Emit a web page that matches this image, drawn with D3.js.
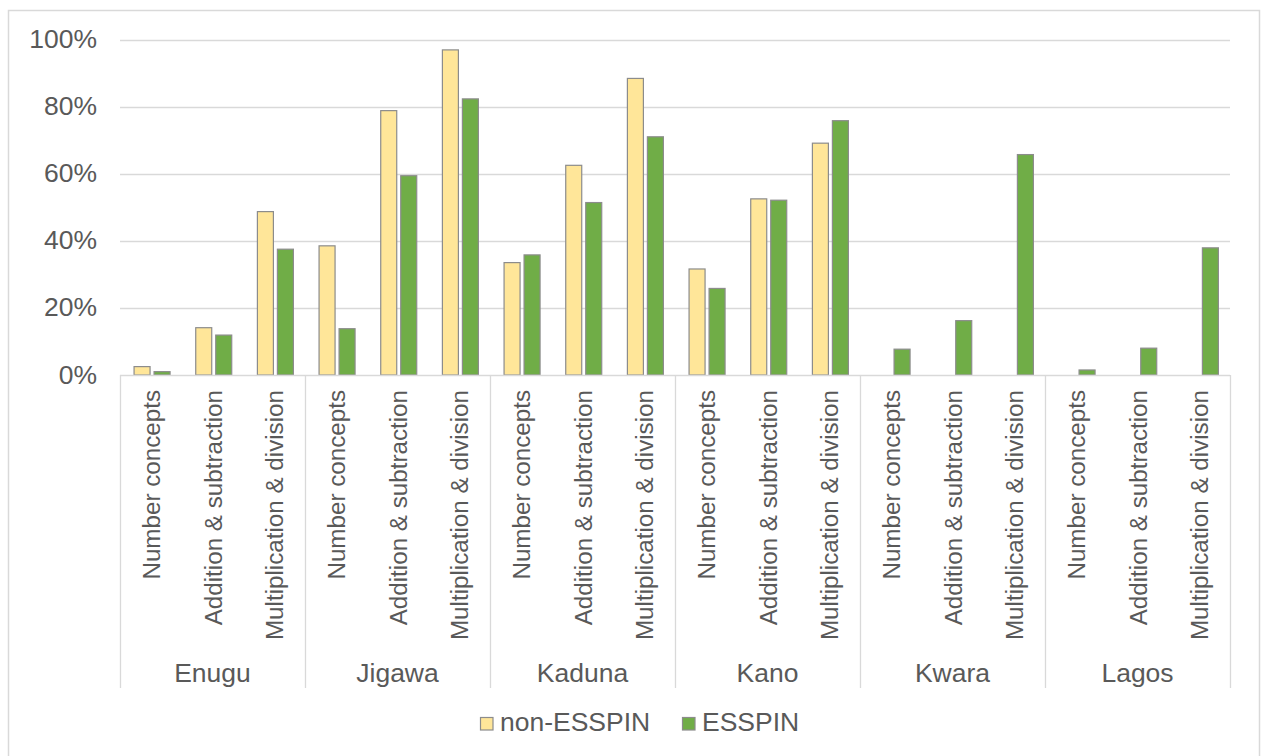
<!DOCTYPE html>
<html>
<head>
<meta charset="utf-8">
<script src="https://cdn.jsdelivr.net/npm/d3@7/dist/d3.min.js"></script>
<style>
  html, body { margin: 0; padding: 0; background: #fff; }
  svg { display: block; font-family: "Liberation Sans", Arial, sans-serif; }
</style>
</head>
<body>
<svg id="chart" width="1261" height="756"></svg>
<script>
// States and skill areas (two-level category axis)
const states = ["Enugu", "Jigawa", "Kaduna", "Kano", "Kwara", "Lagos"];
const skills = ["Number concepts", "Addition & subtraction", "Multiplication & division"];

// Share of pupils (%) per state x skill, in the order of states then skills
const nonEsspin = [2.5, 14.1, 48.7,  38.5, 78.8, 96.9,  33.5, 62.5, 88.4,  31.6, 52.5, 69.1,  null, null, null,  null, null, null];
const esspin    = [1.0, 11.9, 37.5,  13.8, 59.4, 82.3,  35.8, 51.4, 71.0,  25.8, 52.1, 75.8,  7.7, 16.2, 65.7,  1.5, 8.0, 37.9];

const seriesNames = ["non-ESSPIN", "ESSPIN"];
const yTicks = [0, 20, 40, 60, 80, 100];

const colors = { "non-ESSPIN": "#FFE699", "ESSPIN": "#70AD47" };
const textColor = "#595959";
const gridColor = "#D9D9D9";
const wide = 1.06; // horizontal stretch of the upright labels

const svg = d3.select("#chart");

// Outer chart frame
svg.append("rect")
  .attr("x", 8.5).attr("y", 10.5)
  .attr("width", 1251).attr("height", 770)
  .attr("fill", "#fff").attr("stroke", gridColor).attr("stroke-width", 1.5);

const plot = { left: 120, right: 1230, top: 39.5, bottom: 375 };

// Flattened rows: one per state/skill pair
const rows = [];
states.forEach((s, i) => skills.forEach((k, j) => {
  const idx = i * skills.length + j;
  rows.push({ key: s + "|" + k, state: s, skill: k, values: { "non-ESSPIN": nonEsspin[idx], "ESSPIN": esspin[idx] } });
}));

const xGroup = d3.scaleBand().domain(states).range([plot.left, plot.right]);
const xCat = d3.scaleBand().domain(rows.map(r => r.key)).range([plot.left, plot.right]);
const bw = xCat.bandwidth();
const xSeries = d3.scaleBand().domain(seriesNames)
  .range([bw * 0.52 - 18, bw * 0.52 + 18]).paddingInner(0.2);
const y = d3.scaleLinear().domain([0, 100]).range([plot.bottom, plot.top]);

// Horizontal gridlines
svg.append("g").selectAll("line").data(yTicks.filter(t => t > 0)).join("line")
  .attr("x1", plot.left).attr("x2", plot.right)
  .attr("y1", d => Math.round(y(d)) + 0.5).attr("y2", d => Math.round(y(d)) + 0.5)
  .attr("stroke", gridColor).attr("stroke-width", 1.3);

// Y axis labels
const yAxis = d3.axisLeft(y).tickValues(yTicks).tickFormat(d => d + "%").tickSize(0).tickPadding(0);
const yg = svg.append("g").attr("transform", `translate(97,0)`).call(yAxis);
yg.select(".domain").remove();
yg.selectAll(".tick text")
  .attr("x", 0)
  .attr("transform", `scale(${wide},1)`)
  .attr("fill", textColor).attr("font-size", 25)
  .attr("font-family", '"Liberation Sans", Arial, sans-serif');

// Bars
const barG = svg.append("g");
rows.forEach(r => {
  seriesNames.forEach(s => {
    const v = r.values[s];
    if (v == null) return;
    barG.append("rect")
      .attr("x", xCat(r.key) + xSeries(s))
      .attr("y", y(v))
      .attr("width", xSeries.bandwidth())
      .attr("height", y(0) - y(v))
      .attr("fill", colors[s])
      .attr("stroke", "#8C8C8C").attr("stroke-width", 1.2);
  });
});

// Category axis baseline
svg.append("line")
  .attr("x1", plot.left).attr("x2", plot.right)
  .attr("y1", plot.bottom + 0.5).attr("y2", plot.bottom + 0.5)
  .attr("stroke", gridColor).attr("stroke-width", 1.3);

// Group separators
const seps = states.map(s => xGroup(s)).concat([plot.right]);
svg.append("g").selectAll("line").data(seps).join("line")
  .attr("x1", d => Math.round(d) + 0.5).attr("x2", d => Math.round(d) + 0.5)
  .attr("y1", plot.bottom).attr("y2", 688)
  .attr("stroke", gridColor).attr("stroke-width", 1.3);

// Rotated skill labels
svg.append("g").selectAll("text").data(rows).join("text")
  .attr("transform", d => `translate(${xCat(d.key) + bw / 2 + 9},390) rotate(-90)`)
  .attr("text-anchor", "end")
  .attr("font-size", 24.2)
  .attr("fill", textColor)
  .text(d => d.skill);

// State labels
svg.append("g").selectAll("text").data(states).join("text")
  .attr("transform", d => `translate(${xGroup(d) + xGroup.bandwidth() / 2},681.5) scale(${wide},1)`)
  .attr("text-anchor", "middle")
  .attr("font-size", 25)
  .attr("fill", textColor)
  .text(d => d);

// Legend
const legend = svg.append("g");
const legendItems = [
  { name: "non-ESSPIN", x: 480 },
  { name: "ESSPIN", x: 682 }
];
legendItems.forEach(it => {
  legend.append("rect")
    .attr("x", it.x + 0.5).attr("y", 717.5)
    .attr("width", 12.5).attr("height", 12.5)
    .attr("fill", colors[it.name]).attr("stroke", "#8C8C8C").attr("stroke-width", 1.2);
  legend.append("text")
    .attr("transform", `translate(${it.x + 20},730.5) scale(${wide},1)`)
    .attr("font-size", 25).attr("fill", textColor)
    .text(it.name);
});
</script>
</body>
</html>
